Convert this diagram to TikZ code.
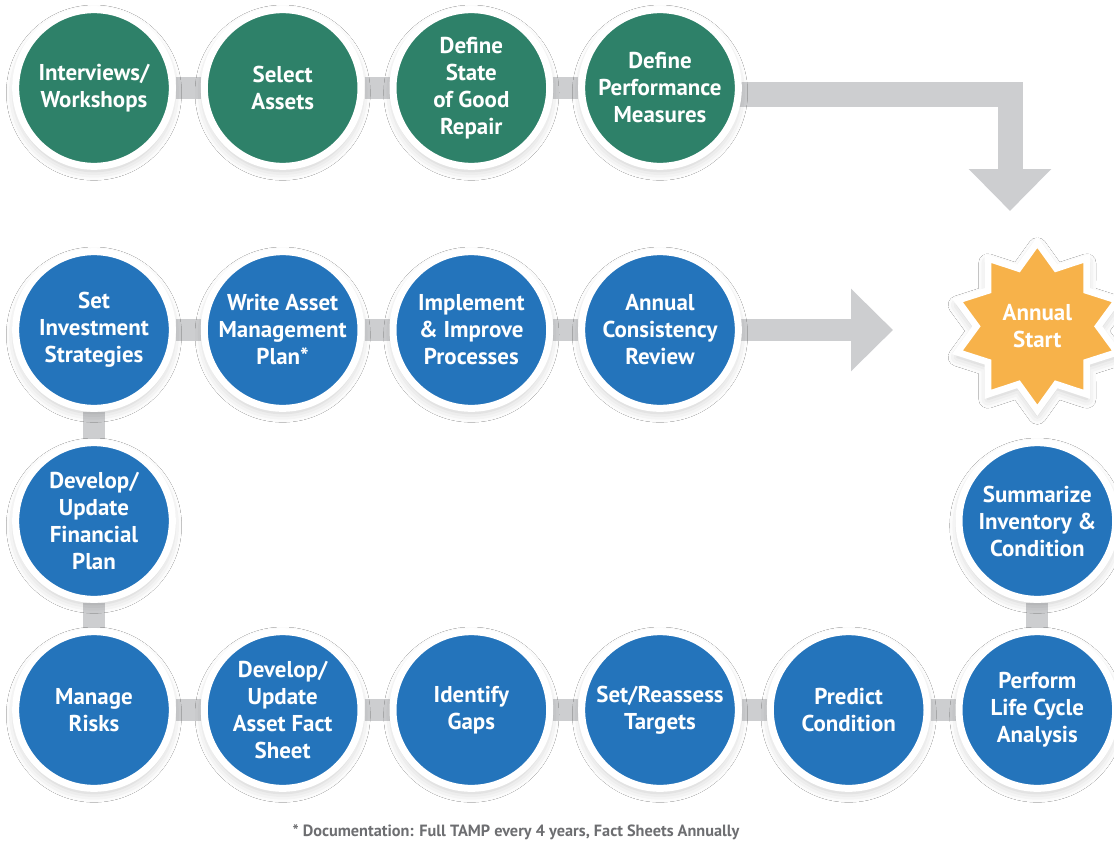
\documentclass[tikz,border=0pt]{standalone}
\usepackage{fontspec}
\setmainfont{PT Sans}
\usepackage{tikz}
\usetikzlibrary{shapes.geometric, arrows.meta, positioning, backgrounds, shadows.blur}
\usepackage{xcolor}

\definecolor{tampgreen}{HTML}{2E8169}
\definecolor{tampblue}{HTML}{2474BB}
\definecolor{tamporange}{HTML}{F7B24A}
\definecolor{bargray}{HTML}{CDCED0}
\definecolor{notegray}{HTML}{6D6E71}
\newcommand{\stagefont}{\fontsize{17.2}{20.25}\selectfont\bfseries}

\begin{document}
\begin{tikzpicture}[
    x=0.75pt, y=-0.75pt,
    node distance=141.5pt, on grid,
    stage/.style={circle, draw=white, line width=5.25pt, minimum size=117.5pt, inner sep=0pt,
        align=center, text=white, font=\stagefont,
        blur shadow={shadow xshift=0pt, shadow yshift=-3.5pt, shadow blur radius=7pt, shadow opacity=22}},
    plan/.style={stage, fill=tampgreen},
    cycle/.style={stage, fill=tampblue},
    burst/.style={star, star points=10, star point ratio=1.38, minimum size=126pt, inner sep=0pt,
        draw=white, line width=5pt, fill=tamporange, align=center, text=white, font=\stagefont,
        blur shadow={shadow xshift=0pt, shadow yshift=-3.5pt, shadow blur radius=7pt, shadow opacity=22}},
    link/.style={draw=bargray, line width=16.5pt},
    bigarrow/.style={draw=bargray, line join=miter, -{Triangle[length=31.5pt, width=60pt]}}
]
\useasboundingbox (0,0) rectangle (1114,846);

% setup row
\node[plan] (iw) at (94,88) {Interviews/\\Workshops};
\node[plan, right=of iw] (assets) {Select\\Assets};
\node[plan, right=of assets] (sogr) {Define\\State\\of Good\\Repair};
\node[plan, right=of sogr] (perf) {Define\\Performance\\Measures};

% yearly cycle
\node[cycle, below=181.5pt of iw] (invest) {Set\\Investment\\Strategies};
\node[cycle, right=of invest] (tamp) {Write Asset\\Management\\Plan*};
\node[cycle, right=of tamp] (improve) {Implement\\\& Improve\\Processes};
\node[cycle, right=of improve] (review) {Annual\\Consistency\\Review};
\node[cycle, below=143.25pt of invest] (finance) {Develop/\\Update\\Financial\\Plan};
\node[cycle, below=141.75pt of finance] (risks) {Manage\\Risks};
\node[cycle, right=of risks] (factsheet) {Develop/\\Update\\Asset Fact\\Sheet};
\node[cycle, right=of factsheet] (gaps) {Identify\\Gaps};
\node[cycle, right=of gaps] (targets) {Set/Reassess\\Targets};
\node[cycle, right=of targets] (predict) {Predict\\Condition};
\node[cycle, right=of predict] (lifecycle) {Perform\\Life Cycle\\Analysis};
\node[cycle, above=141.75pt of lifecycle] (inventory) {Summarize\\Inventory \&\\Condition};
\node[burst, above=146pt of inventory] (start) {Annual\\Start};

\coordinate (drop) at (1010,211);
\coordinate (goal) at (893,330);

\node[font=\fontsize{12.2}{15}\selectfont\bfseries, text=notegray] (doc) at (516,832)
    {* Documentation: Full TAMP every 4 years, Fact Sheets Annually};

\begin{scope}[on background layer]
\fill[white] (0,0) rectangle (1114,846);
\draw[link] (iw) -- (assets) -- (sogr) -- (perf);
\draw[link] (invest) -- (tamp) -- (improve) -- (review);
\draw[link] (invest) -- (finance) -- (risks);
\draw[link] (risks) -- (factsheet) -- (gaps) -- (targets) -- (predict) -- (lifecycle);
\draw[link] (lifecycle) -- (inventory);
\draw[bigarrow, line width=18.75pt] ([yshift=-5pt]perf.center) -| (drop);
\draw[bigarrow, line width=16.5pt] (review.center) -- (goal);
\end{scope}
\end{tikzpicture}
\end{document}
